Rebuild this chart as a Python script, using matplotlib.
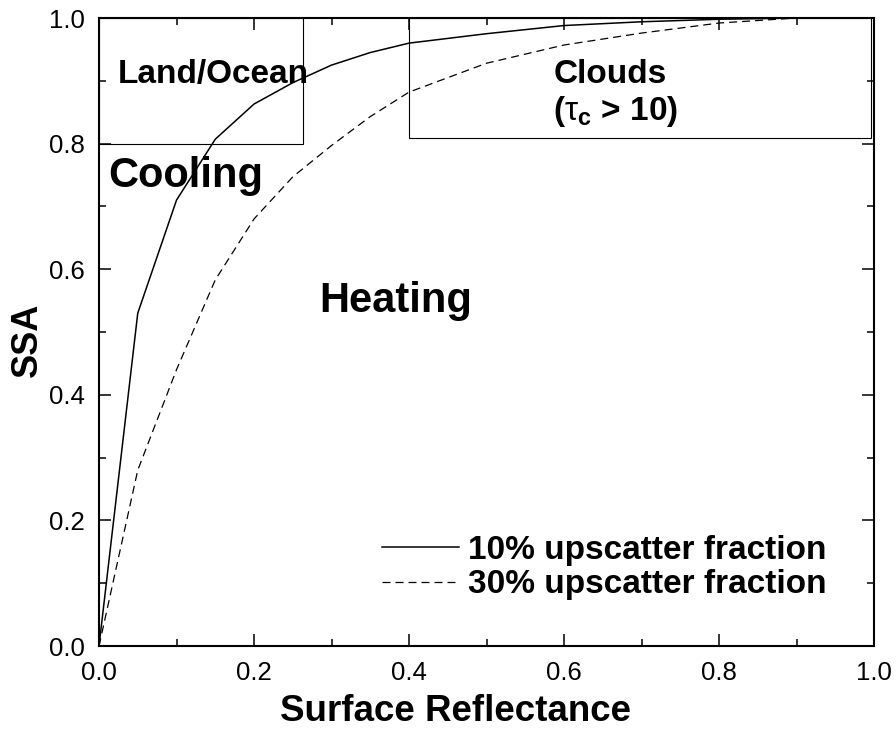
import matplotlib
matplotlib.use('Agg')
import matplotlib.pyplot as plt
from matplotlib.ticker import MultipleLocator
from matplotlib.patches import Rectangle

plt.rcParams['font.family'] = ['Liberation Sans', 'DejaVu Sans']
plt.rcParams['mathtext.fontset'] = 'custom'
plt.rcParams['mathtext.rm'] = 'Liberation Sans'
plt.rcParams['mathtext.it'] = 'Liberation Sans:italic'
plt.rcParams['mathtext.bf'] = 'Liberation Sans:bold'

#------------------------data-----------------------
refl_10 = [0.0, 0.05, 0.10, 0.15, 0.20, 0.25, 0.30, 0.35, 0.40, 0.50, 0.60, 0.70, 0.80, 0.90, 1.0]
ssa_10 = [0.0, 0.53, 0.71, 0.807, 0.863, 0.897, 0.925, 0.945, 0.96, 0.975, 0.988, 0.994, 0.998, 1.0, 1.0]

refl_30 = [0.0, 0.05, 0.10, 0.15, 0.20, 0.25, 0.30, 0.35, 0.40, 0.50, 0.60, 0.70, 0.80, 0.90, 1.0]
ssa_30 = [0.0, 0.28, 0.44, 0.583, 0.68, 0.747, 0.797, 0.843, 0.882, 0.928, 0.957, 0.976, 0.992, 1.0, 1.0]

series_labels = ['10% upscatter fraction', '30% upscatter fraction']

# regions (x0, x1, y0, y1)
land_box = (0.0, 0.263, 0.80, 1.0)
cloud_box = (0.40, 0.996, 0.809, 1.0)

#------------------------plot-----------------------
fig = plt.figure(figsize=(8.96, 7.41), dpi=100)
ax = fig.add_axes([0.1105, 0.1282, 0.865, 0.8475])

ax.plot(refl_10, ssa_10, color='black', lw=1.1, label=series_labels[0])
ax.plot(refl_30, ssa_30, color='black', lw=0.9, dashes=(6.4, 4), label=series_labels[1])

for b in (land_box, cloud_box):
    ax.add_patch(Rectangle((b[0], b[2]), b[1] - b[0], b[3] - b[2],
                           fill=False, edgecolor='black', lw=0.8))

ax.text(0.147, 0.896, 'Land/Ocean', fontsize=24, fontweight='bold', ha='center', va='baseline')
ax.text(0.112, 0.731, 'Cooling', fontsize=30, fontweight='bold', ha='center', va='baseline')
ax.text(0.383, 0.532, 'Heating', fontsize=30, fontweight='bold', ha='center', va='baseline')
ax.text(0.586, 0.896, 'Clouds', fontsize=24, fontweight='bold', ha='left', va='baseline')
ax.text(0.586, 0.838, r'($\mathrm{\tau}_\mathbf{c}$ > 10)', fontsize=24, fontweight='bold',
        ha='left', va='baseline')

leg = ax.legend(loc='center left', bbox_to_anchor=(0.365, 0.125), frameon=False,
                borderpad=0, borderaxespad=0, handlelength=2.3, handletextpad=0.27,
                labelspacing=0.1, prop={'size': 24, 'weight': 'bold'})

ax.set_xlim(0, 1)
ax.set_ylim(0, 1)
ax.xaxis.set_major_locator(MultipleLocator(0.2))
ax.xaxis.set_minor_locator(MultipleLocator(0.1))
ax.yaxis.set_major_locator(MultipleLocator(0.2))
ax.yaxis.set_minor_locator(MultipleLocator(0.1))
ax.xaxis.set_major_formatter(lambda v, p: f'{v:.1f}')
ax.yaxis.set_major_formatter(lambda v, p: f'{v:.1f}')
ax.tick_params(which='both', direction='in', top=True, right=True, width=1.1, labelsize=18.5)
ax.tick_params(which='major', length=8.5)
ax.tick_params(which='minor', length=5)
ax.tick_params(axis='y', pad=10)
ax.tick_params(axis='x', pad=11)
for s in ax.spines.values():
    s.set_linewidth(1.5)

ax.set_xlabel('Surface Reflectance', fontsize=26.5, fontweight='bold', va='baseline')
ax.xaxis.set_label_coords(0.46, -0.12)
ax.set_ylabel('SSA', fontsize=26, fontweight='bold')
ax.yaxis.set_label_coords(-0.07, 0.487)

plt.savefig('out.png', dpi=100)
